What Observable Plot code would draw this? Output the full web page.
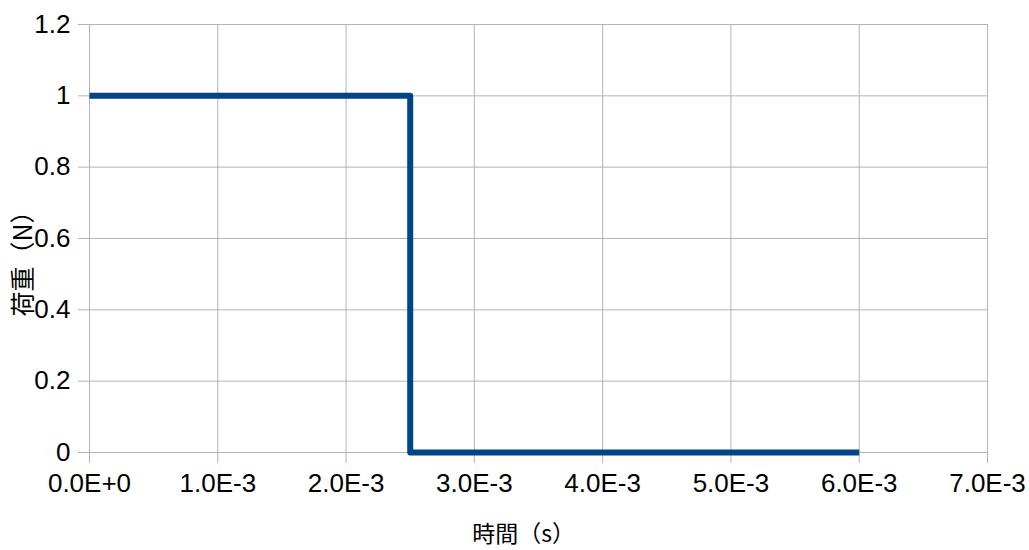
<!DOCTYPE html>
<html>
<head>
<meta charset="utf-8">
<script src="https://cdn.jsdelivr.net/npm/d3@7"></script>
<script src="https://cdn.jsdelivr.net/npm/@observablehq/plot@0.6"></script>
<style>
  html, body { margin: 0; padding: 0; background: #ffffff; }
  #chart svg { display: block; }
</style>
</head>
<body>
<div id="chart"></div>
<script>
// Data
const timeValues = [0, 0.0025, 0.0025, 0.006];
const loadValues = [1, 1, 0, 0];
const xTicks = [0, 0.001, 0.002, 0.003, 0.004, 0.005, 0.006, 0.007];
const xTickLabels = ["0.0E+0", "1.0E-3", "2.0E-3", "3.0E-3", "4.0E-3", "5.0E-3", "6.0E-3", "7.0E-3"];
const yTicks = [0, 0.2, 0.4, 0.6, 0.8, 1, 1.2];
const yTickLabels = ["0", "0.2", "0.4", "0.6", "0.8", "1", "1.2"];
const xLabel = "時間（s）";
const yLabel = "荷重（N）";

const points = timeValues.map((t, i) => ({t, v: loadValues[i]}));
const gridColor = "#b3b3b3";
const numFont = "'Liberation Sans', Arial, sans-serif";
const cjkFont = "'Noto Sans CJK JP', 'Liberation Sans', sans-serif";

const chart = Plot.plot({
  width: 1029,
  height: 550,
  marginLeft: 89,
  marginRight: 42,
  marginTop: 24,
  marginBottom: 98,
  style: {background: "#ffffff", color: "#000000"},
  x: {domain: [0, 0.007]},
  y: {domain: [0, 1.2]},
  marks: [
    Plot.gridX(xTicks, {stroke: gridColor, strokeOpacity: 1, strokeWidth: 1}),
    Plot.gridY(yTicks, {stroke: gridColor, strokeOpacity: 1, strokeWidth: 1}),
    Plot.axisX({
      ticks: xTicks, tickFormat: (d, i) => xTickLabels[xTicks.indexOf(d)],
      tickSize: 11, tickPadding: 10, stroke: gridColor, fill: "#000000",
      fontSize: 26, fontFamily: numFont, label: null
    }),
    Plot.axisY({
      ticks: yTicks, tickFormat: (d) => yTickLabels[yTicks.indexOf(d)],
      tickSize: 11, tickPadding: 8, stroke: gridColor, fill: "#000000",
      fontSize: 26, fontFamily: numFont, label: null
    }),
    Plot.text([xLabel], {
      frameAnchor: "bottom", textAnchor: "middle", lineAnchor: "middle",
      dx: -15, dy: 82, fontSize: 23, fontFamily: cjkFont, fill: "#000000"
    }),
    Plot.text([yLabel], {
      frameAnchor: "left", rotate: -90, textAnchor: "middle", lineAnchor: "middle",
      dx: -66, dy: 19, fontSize: 25, fontFamily: cjkFont, fill: "#000000"
    }),
    Plot.line(points, {x: "t", y: "v", stroke: "#004586", strokeWidth: 6, strokeLinejoin: "round", strokeLinecap: "butt", curve: "linear"})
  ]
});
document.getElementById("chart").appendChild(chart);
</script>
</body>
</html>
